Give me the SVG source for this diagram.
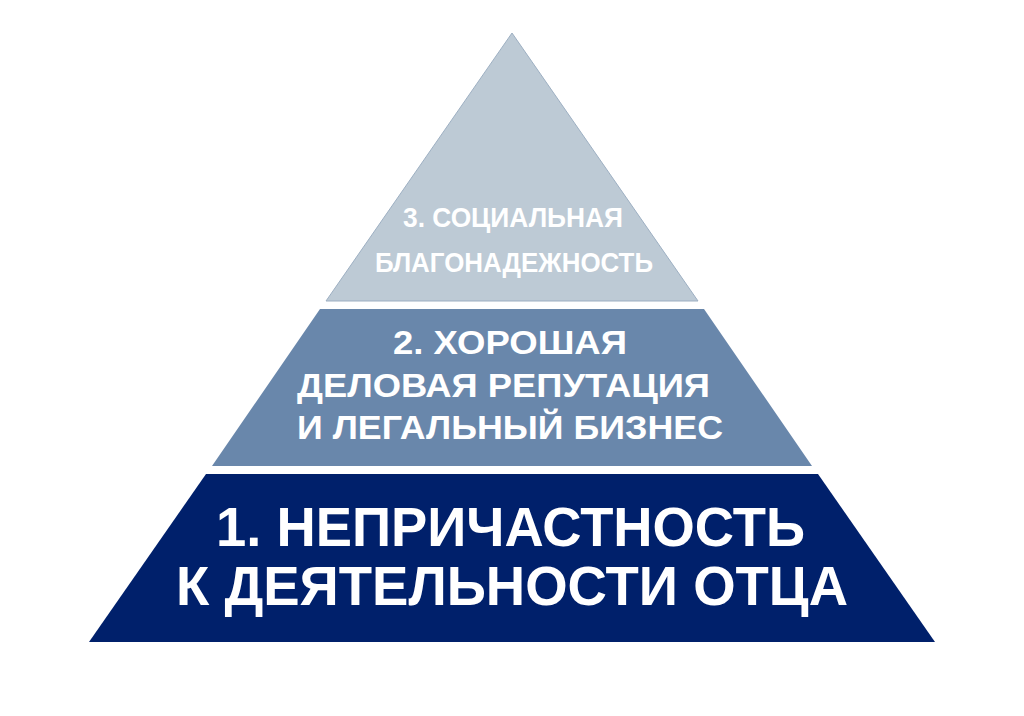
<svg xmlns="http://www.w3.org/2000/svg" width="1024" height="716" viewBox="0 0 1024 716">
  <style>
    .t { font-family: "Liberation Sans", Arial, sans-serif; font-weight: bold; fill: #ffffff; text-anchor: start; }
  </style>
  <rect width="1024" height="716" fill="#ffffff"/>
  <g id="tier3">
    <polygon points="512,33 698,301 326,301" fill="#BDCAD5" stroke="#9DAFC2" stroke-width="1"/>
    <text class="t" x="403" y="227" font-size="27" textLength="220" lengthAdjust="spacingAndGlyphs" fill="#F4F6F8">3. СОЦИАЛЬНАЯ</text>
    <text class="t" x="375" y="272" font-size="27" textLength="278" lengthAdjust="spacingAndGlyphs" fill="#F4F6F8">БЛАГОНАДЕЖНОСТЬ</text>
  </g>
  <g id="tier2">
    <polygon points="320,309 704,309 812,466 212,466" fill="#6987AB"/>
    <text class="t" x="393" y="354" font-size="34" textLength="234" lengthAdjust="spacingAndGlyphs">2. ХОРОШАЯ</text>
    <text class="t" x="297" y="397" font-size="34" textLength="413" lengthAdjust="spacingAndGlyphs">ДЕЛОВАЯ РЕПУТАЦИЯ</text>
    <text class="t" x="297" y="439" font-size="34" textLength="426" lengthAdjust="spacingAndGlyphs">И ЛЕГАЛЬНЫЙ БИЗНЕС</text>
  </g>
  <g id="tier1">
    <polygon points="206,474 818,474 935,642 89,642" fill="#00206B"/>
    <text class="t" x="216" y="546" font-size="55" textLength="589" lengthAdjust="spacingAndGlyphs">1. НЕПРИЧАСТНОСТЬ</text>
    <text class="t" x="176" y="605" font-size="55" textLength="672" lengthAdjust="spacingAndGlyphs">К ДЕЯТЕЛЬНОСТИ ОТЦА</text>
  </g>
  <g id="connectors"></g>
</svg>
